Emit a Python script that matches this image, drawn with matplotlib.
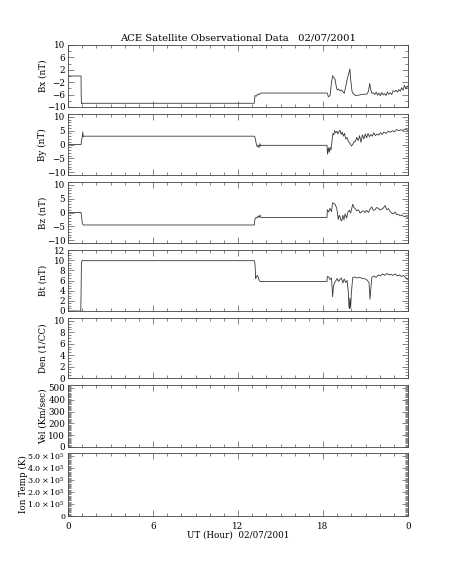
import numpy as np
import matplotlib
matplotlib.use("Agg")
from matplotlib import pyplot as plt
from matplotlib.ticker import MultipleLocator

plt.rcParams['font.family'] = 'DejaVu Serif'
plt.rcParams['mathtext.fontset'] = 'dejavuserif'

title = "ACE Satellite Observational Data   02/07/2001"
xlabel = "UT (Hour)  02/07/2001"

# Bx (nT)
bx_t = [0, 0.92, 0.93, 0.95, 1.0, 1.1, 13.15, 13.2, 13.3, 13.4, 13.5, 13.6, 18.30, 18.38,
        18.5, 18.6, 18.68, 18.75, 18.85, 18.92, 19.0, 19.1, 19.2, 19.3, 19.4, 19.5, 19.6,
        19.7, 19.8, 19.9, 19.95, 20.05, 20.15, 20.3, 20.5, 20.7, 20.9, 21.1, 21.2, 21.3,
        21.35, 21.45, 21.55, 21.65, 21.75, 21.85, 21.95, 22.05, 22.15, 22.25, 22.35, 22.45,
        22.55, 22.65, 22.75, 22.85, 22.95, 23.05, 23.15, 23.25, 23.35, 23.45, 23.55, 23.65,
        23.75, 23.85, 23.95, 24.0]
bx_v = [0, 0, -6, -9, -8.8, -8.8, -8.8, -6.3, -6.5, -5.8, -6.0, -5.5, -5.5, -6.7,
        -6.3, -2.0, 0.1, -0.5, -1.0, -3.0, -4.5, -4.2, -4.8, -4.5, -5.0, -5.6, -3.5,
        -1.2, 0.5, 2.3, -1.0, -5.0, -5.8, -6.3, -6.2, -6.0, -5.9, -5.8, -5.0, -2.4,
        -4.0, -5.6, -5.4, -6.0, -5.2, -6.2, -5.5, -6.4, -5.3, -6.1, -5.7, -6.3,
        -5.2, -5.9, -5.4, -6.0, -4.8, -5.0, -4.6, -5.2, -4.4, -4.9, -3.8, -4.6,
        -3.0, -4.2, -3.2, -3.6]

# By (nT)
by_t = [0, 0.92, 0.96, 1.0, 1.04, 1.08, 1.12, 13.15, 13.2, 13.28, 13.35, 13.42, 13.48, 13.55,
        13.6, 13.65, 18.28, 18.32, 18.38, 18.44, 18.5, 18.56, 18.62, 18.7, 18.76, 18.82, 18.9,
        18.98, 19.05, 19.12, 19.2, 19.28, 19.36, 19.44, 19.52, 19.6, 19.7, 19.8, 19.9, 20.0,
        20.08, 20.18, 20.28, 20.38, 20.48, 20.58, 20.68, 20.78, 20.88, 20.98, 21.08, 21.18,
        21.28, 21.38, 21.48, 21.58, 21.7, 21.82, 21.94, 22.06, 22.18, 22.3, 22.45, 22.6,
        22.75, 22.9, 23.05, 23.2, 23.35, 23.5, 23.65, 23.8, 23.95, 24.0]
by_v = [0, 0, 1.5, 2.5, 4.5, 2.8, 3.0, 3.0, 2.6, 0.5, -0.8, -0.2, -1.1, 0.3,
        -0.6, -0.3, -0.3, -3.5, -1.2, -2.8, -1.0, -2.0, 0.5, 4.0, 3.5, 5.0, 4.2,
        4.8, 3.8, 4.6, 5.2, 3.6, 4.5, 3.0, 4.0, 2.0, 2.5, 1.0, 0.5, -0.5,
        -0.2, 1.0, 1.0, 2.6, 1.4, 3.2, 0.8, 3.5, 2.0, 3.8, 2.4, 4.0,
        2.8, 3.6, 3.0, 4.2, 3.2, 3.8, 3.4, 4.3, 3.6, 4.5, 4.0, 4.8,
        4.4, 5.0, 4.6, 5.4, 5.0, 5.3, 5.1, 5.6, 5.2, 5.0]

# Bz (nT)
bz_t = [0, 0.92, 0.96, 1.0, 1.05, 1.1, 13.15, 13.2, 13.28, 13.35, 13.42, 13.5, 13.56, 13.62,
        18.28, 18.31, 18.4, 18.5, 18.6, 18.68, 18.76, 18.85, 18.97, 19.08, 19.14, 19.2, 19.26,
        19.32, 19.4, 19.48, 19.56, 19.67, 19.76, 19.86, 19.95, 20.1, 20.18, 20.26, 20.38, 20.5,
        20.62, 20.73, 20.85, 20.97, 21.08, 21.2, 21.32, 21.44, 21.55, 21.67, 21.79, 21.91,
        22.02, 22.14, 22.26, 22.38, 22.5, 22.62, 22.73, 22.85, 22.97, 23.1, 23.2, 23.32,
        23.44, 23.55, 23.67, 23.8, 23.96, 24.0]
bz_v = [0, 0, -1.5, -3.5, -4.3, -4.5, -4.5, -2.3, -1.8, -2.0, -1.2, -1.8, -0.9, -1.8,
        -1.8, 1.0, 0.2, 1.5, 0.3, 3.5, 3.3, 3.0, 1.5, -2.5, -1.0, -1.5, -2.8,
        -3.0, -1.0, -2.6, -0.5, -2.0, 0.2, 0.8, -0.2, 3.0, 1.8, 1.5, 0.6, 1.0,
        -0.2, 0.3, 0.6, 0.0, 0.8, 0.0, 1.2, 2.0, 0.8, 1.0, 1.8, 1.5,
        0.9, 1.2, 1.6, 2.5, 1.0, 1.4, 0.5, -0.3, -0.5, 0.2, -0.8, -0.6,
        -1.2, -0.9, -1.3, -1.5, -1.6, -1.8]

# Bt (nT)
bt_t = [0, 0.9, 0.92, 0.95, 1.0, 1.1, 13.15, 13.2, 13.25, 13.3, 13.38, 13.45, 13.52, 13.6,
        18.28, 18.31, 18.4, 18.5, 18.6, 18.68, 18.74, 18.82, 18.92, 19.0, 19.1, 19.2, 19.3,
        19.4, 19.5, 19.6, 19.7, 19.79, 19.83, 19.86, 19.9, 19.95, 20.0, 20.1, 20.25, 20.4,
        20.6, 20.8, 21.0, 21.15, 21.25, 21.32, 21.38, 21.45, 21.6, 21.75, 21.9, 22.05,
        22.2, 22.35, 22.5, 22.65, 22.8, 22.95, 23.1, 23.25, 23.4, 23.55, 23.7, 23.85,
        23.95, 24.0]
bt_v = [0, 0, 3, 9.5, 10, 9.9, 9.9, 9.3, 6.4, 6.8, 7.0, 6.4, 5.9, 5.8,
        5.8, 6.8, 6.7, 6.2, 6.5, 2.8, 4.9, 5.6, 6.0, 6.4, 5.8, 6.2, 6.5,
        5.5, 6.3, 5.6, 6.0, 3.7, 1.0, 0.5, 2.5, 0.6, 3.5, 6.6, 6.7, 6.5,
        6.6, 6.4, 6.3, 6.0, 5.5, 2.3, 4.5, 6.6, 6.9, 6.6, 7.1, 6.9,
        7.3, 7.0, 7.4, 7.1, 7.2, 7.0, 7.3, 6.9, 7.1, 6.8, 7.0, 6.5,
        6.2, 6.4]

xticks = [0, 6, 12, 18, 24]
xticklabels = ["0", "6", "12", "18", "0"]

temp_ticks = [0, 1e5, 2e5, 3e5, 4e5, 5e5]
temp_labels = ["0", r"$1.0\times10^{5}$", r"$2.0\times10^{5}$", r"$3.0\times10^{5}$",
               r"$4.0\times10^{5}$", r"$5.0\times10^{5}$"]

# panel: label, ylim, major, minor, data
panels = [
    ("Bx (nT)", (-10, 10), [-10, -6, -2, 2, 6, 10], 2, bx_t, bx_v),
    ("By (nT)", (-11, 11), [-10, -5, 0, 5, 10], 1, by_t, by_v),
    ("Bz (nT)", (-11, 11), [-10, -5, 0, 5, 10], 1, bz_t, bz_v),
    ("Bt (nT)", (0, 12), [0, 2, 4, 6, 8, 10, 12], 0.5, bt_t, bt_v),
    ("Den (1/CC)", (0, 10.5), [0, 2, 4, 6, 8, 10], 0.5, None, None),
    ("Vel (Km/sec)", (0, 525), [0, 100, 200, 300, 400, 500], 10, None, None),
    ("Ion Temp (K)", (0, 5.25e5), temp_ticks, 1e4, None, None),
]

# pixel rows of each panel (top, bottom)
rows = [(45, 107), (114, 175), (182, 243), (250, 311), (318, 378), (385, 447), (453, 516)]
W, H = 454, 567

fig = plt.figure(figsize=(W / 100, H / 100), dpi=100)
fs = 6.3
axes = []
for (lab, ylim, major, minor, t, v), (top, bot) in zip(panels, rows):
    ax = fig.add_axes([68 / W, 1 - bot / H, 340 / W, (bot - top) / H])
    if t is not None:
        ax.plot(t, v, color='#383838', lw=0.6)
    ax.set_xlim(0, 24)
    ax.set_ylim(*ylim)
    ax.set_yticks(major)
    ax.yaxis.set_minor_locator(MultipleLocator(minor))
    ax.set_xticks(xticks)
    ax.xaxis.set_minor_locator(MultipleLocator(1))
    ax.tick_params(which='both', direction='in', top=True, right=True,
                   labelsize=fs, width=0.5, color='#555555', pad=2)
    ax.tick_params(which='major', length=4)
    ax.tick_params(which='minor', length=2)
    for s in ax.spines.values():
        s.set_linewidth(0.6)
        s.set_color('#444444')
    ax.set_ylabel(lab, fontsize=fs, va='center')
    if lab == "Ion Temp (K)":
        ax.set_yticklabels(temp_labels, fontsize=5.8)
        for tl in ax.get_yticklabels():
            tl.set_va('center_baseline')
        ax.yaxis.set_label_coords(-0.132, 0.5)
    else:
        ax.yaxis.set_label_coords(-0.074, 0.5)
    axes.append(ax)

for ax in axes[:-1]:
    ax.set_xticklabels([])
axes[-1].set_xticklabels(xticklabels)
axes[-1].tick_params(axis='x', pad=4)
axes[-1].set_xlabel(xlabel, fontsize=fs, labelpad=0)
axes[0].set_title(title, fontsize=7.2, pad=3)

fig.savefig("out.png", dpi=100)
